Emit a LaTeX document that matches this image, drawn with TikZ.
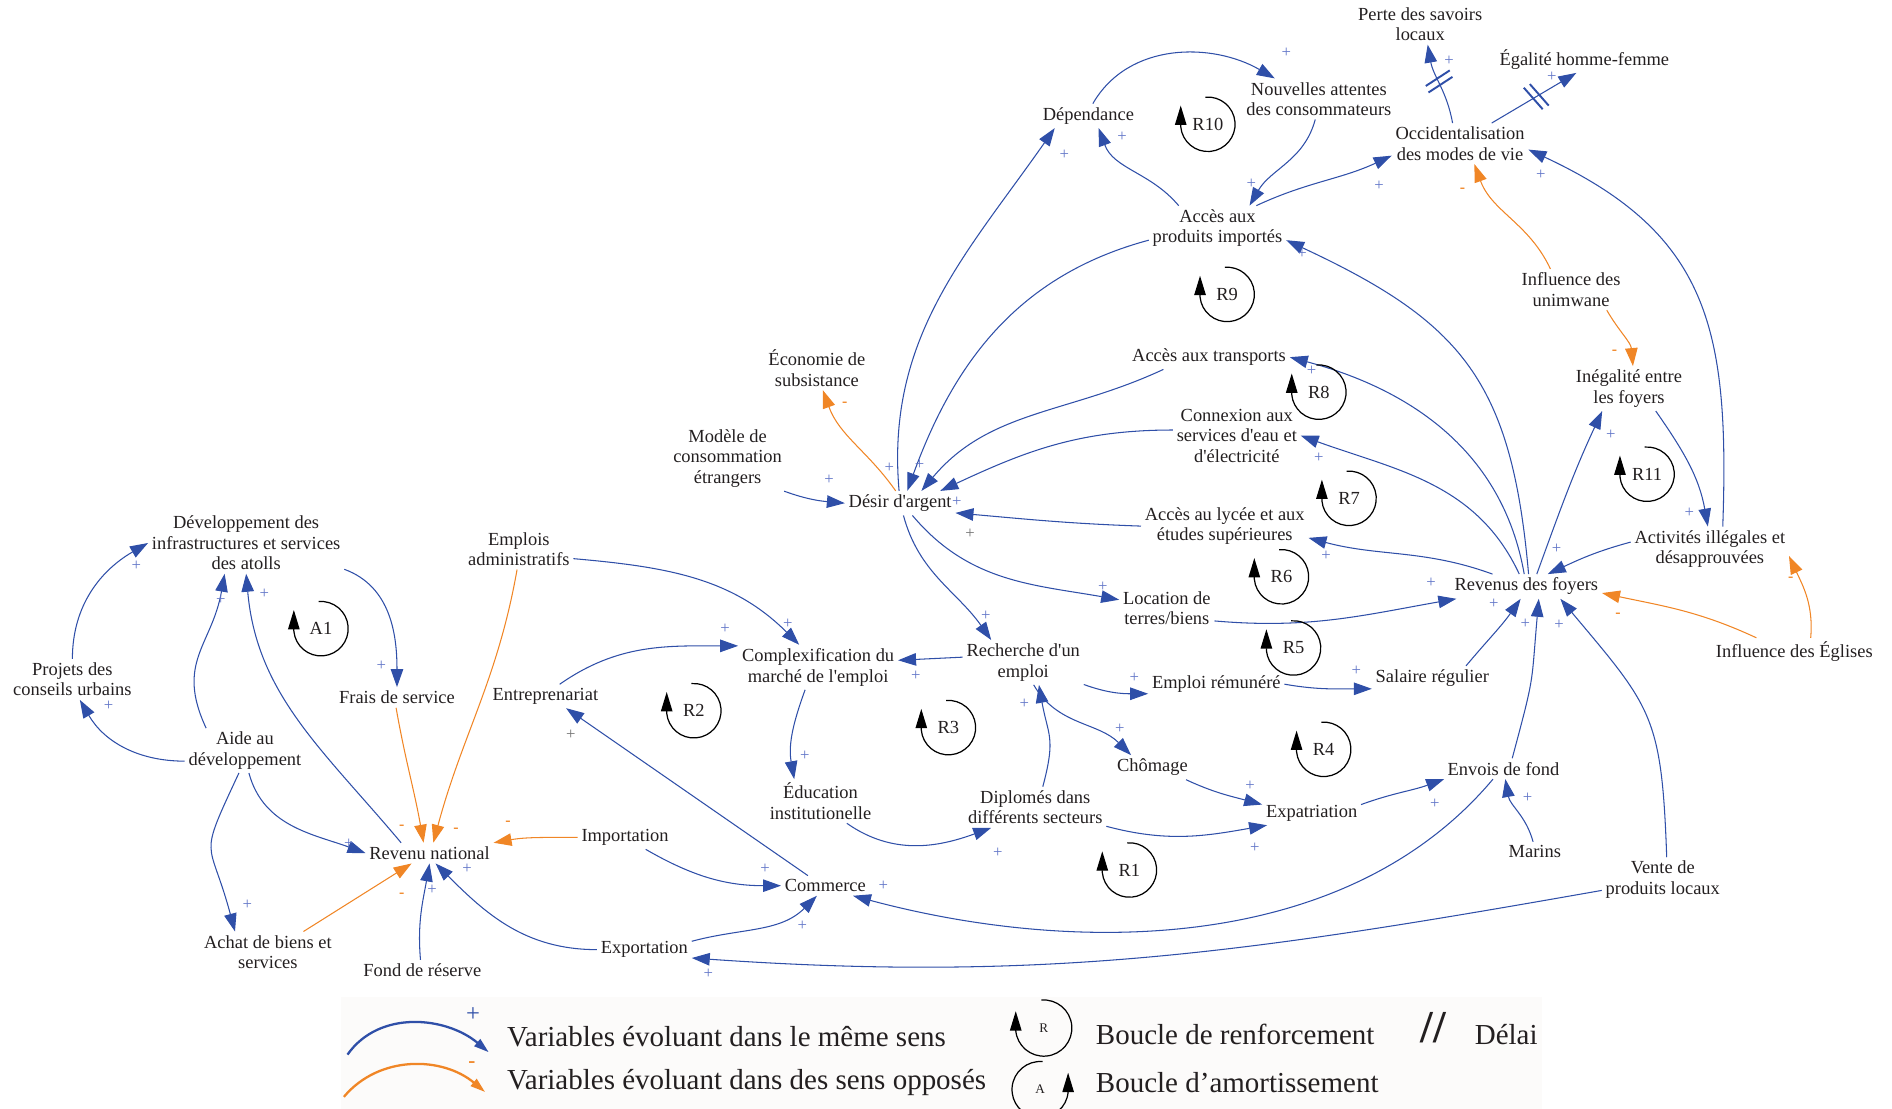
\documentclass[tikz,border=0pt]{standalone}
\usepackage{fontspec}
\setmainfont{Liberation Serif}[Ligatures=TeXOff]
\usetikzlibrary{arrows.meta,calc,decorations.markings}
\definecolor{cblue}{RGB}{47,79,168}
\definecolor{corange}{RGB}{240,134,38}
\definecolor{csign}{RGB}{98,118,200}
\definecolor{ink}{RGB}{35,31,32}
\definecolor{legbg}{RGB}{252,251,250}

\begin{document}
\begin{tikzpicture}[x=0.024132cm,y=-0.024132cm,font=\fontsize{10.5}{11.6}\selectfont,text=ink]
\tikzstyle{v}=[align=center,inner sep=2pt]
\tikzstyle{plusarr}=[draw=cblue,line width=0.6pt,-{Triangle[length=3.6mm,width=2.5mm]}]
\tikzstyle{minusarr}=[draw=corange,line width=0.6pt,-{Triangle[length=3.6mm,width=2.5mm]}]
\tikzstyle{sg}=[text=csign,font=\fontsize{9.5}{9.5}\selectfont,inner sep=0pt]
\tikzstyle{sgg}=[text=black!55,font=\fontsize{9.5}{9.5}\selectfont,inner sep=0pt]
\tikzstyle{sgo}=[text=corange,font=\fontsize{9}{9}\selectfont\bfseries,inner sep=0pt]
\tikzstyle{loopln}=[black,line width=0.7pt,-{Triangle[length=11pt,width=6.5pt]}]
\tikzstyle{delaymk}=[postaction={decorate,decoration={markings,mark=at position 0.5 with {\draw[-,cblue,line width=1.1pt] (1pt,-8pt) -- (-2pt,8pt) (5pt,-8pt) -- (2pt,8pt);}}}]
\tikzstyle{legtxt}=[anchor=west,inner sep=0pt,font=\fontsize{16.5}{18}\selectfont]
\useasboundingbox (0,0) rectangle (1568,919);
\fill[legbg] (283,826) rectangle (1278,919);

\node[v] (dev) at (204,450) {Développement des\\infrastructures et services\\des atolls};
\node[v] (projets) at (60,563) {Projets des\\conseils urbains};
\node[v] (aide) at (203,622) {Aide au\\développement};
\node[v] (achat) at (222,789) {Achat de biens et\\services};
\node[v] (fond) at (350,804) {Fond de réserve};
\node[v] (revnat) at (356,707) {Revenu national};
\node[v] (frais) at (329,578) {Frais de service};
\node[v] (emplois) at (430,455) {Emplois\\administratifs};
\node[v] (entre) at (452,577) {Entreprenariat};
\node[v] (import) at (518,694) {Importation};
\node[v] (export) at (534,787) {Exportation};
\node[v] (commerce) at (684,734) {Commerce};
\node[v] (complex) at (678,553) {Complexification du\\marché de l'emploi};
\node[v] (recherche) at (848,549) {Recherche d'un\\emploi};
\node[v] (educ) at (680,664) {Éducation\\institutionelle};
\node[v] (diplo) at (858,669) {Diplomés dans\\différents secteurs};
\node[v] (emploirem) at (1008,567) {Emploi rémunéré};
\node[v] (salaire) at (1187,562) {Salaire régulier};
\node[v] (chomage) at (955,636) {Chômage};
\node[v] (expat) at (1087,674) {Expatriation};
\node[v] (envois) at (1246,637) {Envois de fond};
\node[v] (marins) at (1272,706) {Marins};
\node[v] (vente) at (1378,729) {Vente de\\produits locaux};
\node[v] (revfoy) at (1265,486) {Revenus des foyers};
\node[v] (location) at (967,504) {Location de\\terres/biens};
\node[v] (lycee) at (1015,436) {Accès au lycée et aux\\études supérieures};
\node[v] (connexion) at (1025,361) {Connexion aux\\services d'eau et\\d'électricité};
\node[v] (transports) at (1002,296) {Accès aux transports};
\node[v] (desir) at (746,417) {Désir d'argent};
\node[v] (modele) at (603,380) {Modèle de\\consommation\\étrangers};
\node[v] (econ) at (677,305) {Économie de\\subsistance};
\node[v] (acces) at (1009,189) {Accès aux\\produits importés};
\node[v] (dependance) at (902,96) {Dépendance};
\node[v] (nouvelles) at (1093,82) {Nouvelles attentes\\des consommateurs};
\node[v] (occident) at (1210,119) {Occidentalisation\\des modes de vie};
\node[v] (perte) at (1177,20) {Perte des savoirs\\locaux};
\node[v] (egalite) at (1313,49) {Égalité homme-femme};
\node[v] (unimwane) at (1302,240) {Influence des\\unimwane};
\node[v] (inegal) at (1350,322) {Inégalité entre\\les foyers};
\node[v] (illegal) at (1417,455) {Activités illégales et\\désapprouvées};
\node[v] (eglises) at (1487,540) {Influence des Églises};

\draw[plusarr] (aide.-170) to[out=180,in=-60] (projets.-70);
\draw[plusarr] (projets.north) to[out=90,in=210] (dev.west);
\draw[plusarr] (aide.150) to[out=115,in=-100,looseness=1.2] (dev.-125);
\draw[plusarr] (revnat.160) to[out=130,in=-85] (dev.south);
\draw[plusarr] (dev.-15) to[out=-20,in=90] (frais.north);
\draw[minusarr] (frais.-95) to[out=-80,in=100] (revnat.120);
\draw[minusarr] (emplois.-95) to[out=-100,in=75] (revnat.70);
\draw[minusarr] (import.west) to[out=180,in=10] (revnat.north east);
\draw[plusarr] (aide.-80) to[out=-75,in=160] (revnat.west);
\draw[plusarr] (aide.-105) to[out=-115,in=105,looseness=1.6] (achat.148);
\draw[minusarr] (achat.30) -- (revnat.-150);
\draw[plusarr] (fond.100) to[out=95,in=-100] (revnat.-90);
\draw[plusarr] (export.west) to[out=180,in=-45] (revnat.-60);
\draw[plusarr] (emplois.-10) to[out=-5,in=135] (complex.130);
\draw[plusarr] (entre.40) to[out=35,in=180] (complex.165);
\draw[plusarr] (commerce.150) -- (entre.-30);
\draw[plusarr] (import.-30) to[out=-30,in=180] (commerce.west);
\draw[plusarr] (export.10) to[out=15,in=-135] (commerce.-130);
\draw[plusarr] (envois.-135) to[out=-130,in=-15,looseness=0.9] (commerce.-20);
\draw[plusarr] (vente.-170) to[out=-170,in=-4] (export.-10);
\draw[plusarr] (complex.-120) to[out=-110,in=100] (educ.140);
\draw[plusarr] (educ.-40) to[out=-35,in=-160] (diplo.-155);
\draw[plusarr] (recherche.175) -- (complex.5);
\draw[plusarr] (desir.-75) to[out=-75,in=125] (recherche.145);
\draw[plusarr] (diplo.70) to[out=75,in=-80,looseness=1.3] (recherche.-55);
\draw[plusarr] (recherche.-20) to[out=-20,in=180] (emploirem.-172);
\draw[plusarr] (emploirem.east) to[out=-10,in=180] (salaire.-170);
\draw[plusarr] (salaire.20) to[out=50,in=-125] (revfoy.-115);
\draw[plusarr] (recherche.-65) to[out=-60,in=135] (chomage.150);
\draw[plusarr] (chomage.-20) to[out=-25,in=165] (expat.170);
\draw[plusarr] (diplo.-15) to[out=-15,in=190] (expat.-165);
\draw[plusarr] (expat.10) to[out=20,in=-160] (envois.-170);
\draw[plusarr] (marins.100) to[out=105,in=-80] (envois.-80);
\draw[plusarr] (envois.50) to[out=75,in=-95,looseness=1.4] (revfoy.-45);
\draw[plusarr] (vente.80) to[out=92,in=-50,looseness=1.3] (revfoy.-20);
\draw[plusarr] (location.-15) to[out=-5,in=190] (revfoy.-170);
\draw[plusarr] (desir.-45) to[out=-50,in=170] (location.170);
\draw[plusarr] (revfoy.160) to[out=160,in=-15] (lycee.-8);
\draw[plusarr] (lycee.west) to[out=178,in=-5] (desir.-10);
\draw[plusarr] (revfoy.120) to[out=115,in=-20] (connexion.east);
\draw[plusarr] (connexion.175) to[out=180,in=25] (desir.17);
\draw[plusarr] (revfoy.100) to[out=100,in=-15] (transports.east);
\draw[plusarr] (transports.195) to[out=205,in=50] (desir.30);
\draw[plusarr] (revfoy.80) to[out=95,in=-25,looseness=1.2] (acces.-10);
\draw[plusarr] (acces.190) to[out=195,in=70] (desir.60);
\draw[plusarr] (desir.95) to[out=95,in=-125] (dependance.-160);
\draw[plusarr] (acces.150) to[out=130,in=-70] (dependance.-50);
\draw[plusarr] (dependance.70) to[out=60,in=150] (nouvelles.155);
\draw[plusarr] (nouvelles.-100) to[out=-105,in=60] (acces.35);
\draw[plusarr] (acces.30) to[out=25,in=-155] (occident.-170);
\draw[plusarr,delaymk] (occident.110) to[out=100,in=-80] (perte.-70);
\draw[plusarr,delaymk] (occident.33) -- (egalite.-120);
\draw[minusarr] (unimwane.135) to[out=115,in=-70] (occident.-55);
\draw[minusarr] (unimwane.-30) to[out=-60,in=95] (inegal.80);
\draw[plusarr] (revfoy.50) to[out=70,in=-115] (inegal.-140);
\draw[plusarr] (inegal.-40) to[out=-55,in=100] (illegal.95);
\draw[plusarr] (illegal.60) to[out=88,in=-25,looseness=1.2] (occident.-5);
\draw[plusarr] (illegal.175) to[out=195,in=25] (revfoy.30);
\draw[minusarr] (eglises.160) to[out=155,in=-12] (revfoy.-5);
\draw[minusarr] (eglises.40) to[out=85,in=-65] (illegal.-5);
\draw[minusarr] (desir.110) to[out=125,in=-70] (econ.-75);
\draw[plusarr] (modele.-30) to[out=-20,in=175] (desir.west);

\foreach \x/\y [count=\i] in {113/469,90/585,183/497,219/492,316/552,289/699,205/750,358/737,387/720,601/521,653/517,634/720,665/767,732/734,587/807,667/626,827/707,759/560,817/510,849/583,940/562,1124/556,1238/500,928/604,1036/651,1040/703,1189/666,1266/661,1264/517,1292/518,1186/483,914/486,1099/461,1093/379,793/416,1087/307,762/385,1079/210,737/388,882/128,930/113,1066/44,1037/152,1143/154,1201/50,1286/64,1335/360,1400/425,1277/145,1290/455,687/398} \node[sg] (s\i) at (\x,\y) {+};
\foreach \x/\y [count=\i] in {473/609,804/442} \node[sgg] (g\i) at (\x,\y) {+};
\foreach \x/\y [count=\i] in {333/686,378/688,421/682,333/742,700/335,1212/158,1338/292,1341/510,1484/480} \node[sgo] (m\i) at (\x,\y) {-};

\foreach \n/\x/\y in {A1/266/521,R2/575/589,R3/786/603,R1/936/721,R4/1097/621,R5/1072/537,R6/1062/478,R7/1118/413,R8/1093/325,R9/1017/244,R10/1001/103,R11/1365/393} {
\node (l\n) at (\x,\y) {\n};
\draw[loopln] ($(l\n)+(95:15.5pt)$) arc[start angle=95,end angle=-175,radius=15.5pt] -- ++(0,12pt);
}

\coordinate (lb1) at (288,874);
\coordinate (lb2) at (405,872);
\draw[plusarr,line width=1.3pt,-{Triangle[length=3mm,width=1.8mm]}] (lb1) to[out=55,in=140] (lb2);
\node[text=cblue,font=\fontsize{14}{14}\selectfont] (lgp) at (392,841) {+};
\coordinate (lo1) at (285,909);
\coordinate (lo2) at (402,905);
\draw[minusarr,line width=1.3pt,-{Triangle[length=3mm,width=1.8mm]}] (lo1) to[out=50,in=140] (lo2);
\node[text=corange,font=\fontsize{12}{12}\selectfont\bfseries] (lgm) at (391,882) {-};
\node[legtxt] (lgt1) at (420,859) {Variables évoluant dans le même sens};
\node[legtxt] (lgt2) at (420,897) {Variables évoluant dans des sens opposés};
\begin{scope}
\clip (0,0) rectangle (1568,919);
\node[font=\fontsize{7.5}{7.5}\selectfont] (lgR) at (865,852) {R};
\draw[loopln] ($(lgR)+(95:16pt)$) arc[start angle=95,end angle=-175,radius=16pt] -- ++(0,11pt);
\node[font=\fontsize{7.5}{7.5}\selectfont] (lgA) at (862,903) {A};
\draw[loopln] ($(lgA)+(85:16pt)$) arc[start angle=85,end angle=355,radius=16pt] -- ++(0,11pt);
\end{scope}
\node[legtxt] (lgt3) at (908,857) {Boucle de renforcement};
\node[legtxt] (lgt4) at (908,897) {Boucle d’amortissement};
\node[font=\fontsize{26}{26}\selectfont\bfseries] (lgd) at (1188,852) {//};
\node[legtxt] (lgt5) at (1222,857) {Délai};
\end{tikzpicture}
\end{document}
